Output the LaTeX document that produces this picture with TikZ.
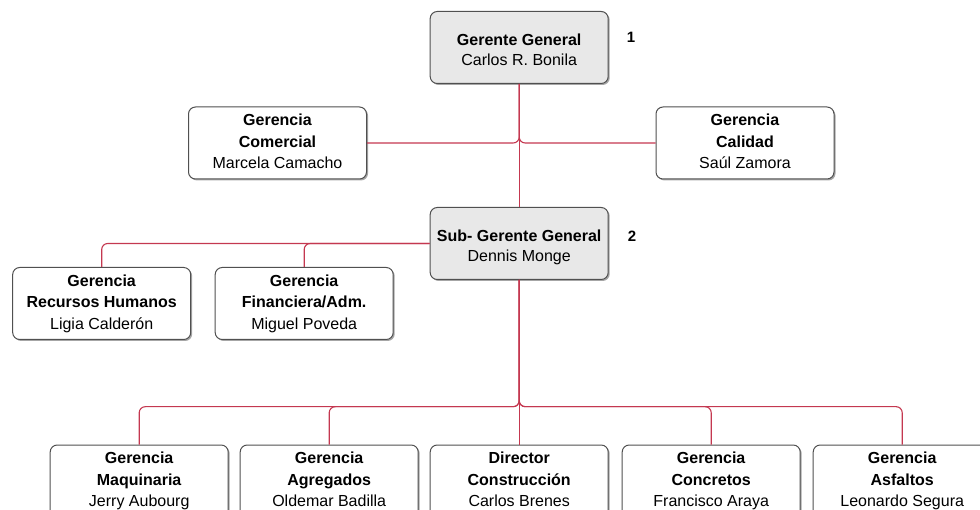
\documentclass[tikz,border=0pt]{standalone}
\usepackage{fontspec}
\setmainfont{Liberation Sans}
\usetikzlibrary{shadows}
\definecolor{linkred}{RGB}{196,56,80}
\definecolor{boxedge}{RGB}{80,80,80}
\definecolor{headfill}{RGB}{232,232,232}
% two- and three-line card contents with fixed line heights
\newcommand{\cardtwo}[2]{\rule{0pt}{22pt}\textbf{#1}\\#2\strut}
\newcommand{\cardthree}[3]{\strut\textbf{#1}\\\textbf{#2}\\#3\strut}
\tikzset{
  unit/.style={rectangle, rounded corners=7pt, draw=boxedge, line width=1pt,
    fill=white, minimum width=178pt, minimum height=72pt, align=center,
    inner sep=0pt, font=\fontsize{16}{21.5}\selectfont,
    drop shadow={shadow xshift=1.5pt, shadow yshift=-1.5pt, opacity=0.35, fill=black}},
  head/.style={unit, fill=headfill, font=\fontsize{16}{20}\selectfont},
  link/.style={draw=linkred, line width=1.1pt, rounded corners=6pt},
  rank/.style={font=\bfseries\fontsize{15}{16}\selectfont}
}
\begin{document}
\begin{tikzpicture}[x=1pt, y=-1pt]
\useasboundingbox (0,0) rectangle (980,510);

% upper levels
\node[head] (gg)  at (519.2,47.5) {\cardtwo{Gerente General}{Carlos R. Bonila}};
\node[unit] (com) at (277.5,143) {\cardthree{Gerencia}{Comercial}{Marcela Camacho}};
\node[unit] (cal) at (745,143) {\cardthree{Gerencia}{Calidad}{Saúl Zamora}};
\node[head] (sub) at (519.2,243.5) {\cardtwo{Sub- Gerente General}{Dennis Monge}};
\node[unit] (rrhh) at (101.7,303.5) {\cardthree{Gerencia}{Recursos Humanos}{Ligia Calderón}};
\node[unit] (fin) at (304.2,303.5) {\cardthree{Gerencia}{Financiera/Adm.}{Miguel Poveda}};

% operating units
\node[unit] (maq) at (139.2,481) {\cardthree{Gerencia}{Maquinaria}{Jerry Aubourg}};
\node[unit] (agr) at (329.2,481) {\cardthree{Gerencia}{Agregados}{Oldemar Badilla}};
\node[unit] (dir) at (519.2,481) {\cardthree{Director}{Construcción}{Carlos Brenes}};
\node[unit] (con) at (711.2,481) {\cardthree{Gerencia}{Concretos}{Francisco Araya}};
\node[unit] (asf) at (902.2,481) {\cardthree{Gerencia}{Asfaltos}{Leonardo Segura}};

% level numbers
\node[rank] (n1) at (631,37) {1};
\node[rank] (n2) at (632,236) {2};

% connectors
\coordinate (staff) at (519.2,143);
\coordinate (bus) at (519.2,406.7);
\draw[link] (gg.south) -- (staff) -- (sub.north);
\draw[link] (gg.south) |- (com.east);
\draw[link] (gg.south) |- (cal.west);
\draw[link] (sub.west) -| (rrhh.north);
\draw[link] (sub.west) -| (fin.north);
\draw[link] (sub.south) -- (bus) -- (dir.north);
\draw[link] (sub.south) |- (maq.north |- bus) -- (maq.north);
\draw[link] (sub.south) |- (agr.north |- bus) -- (agr.north);
\draw[link] (sub.south) |- (con.north |- bus) -- (con.north);
\draw[link] (sub.south) |- (asf.north |- bus) -- (asf.north);
\end{tikzpicture}
\end{document}
